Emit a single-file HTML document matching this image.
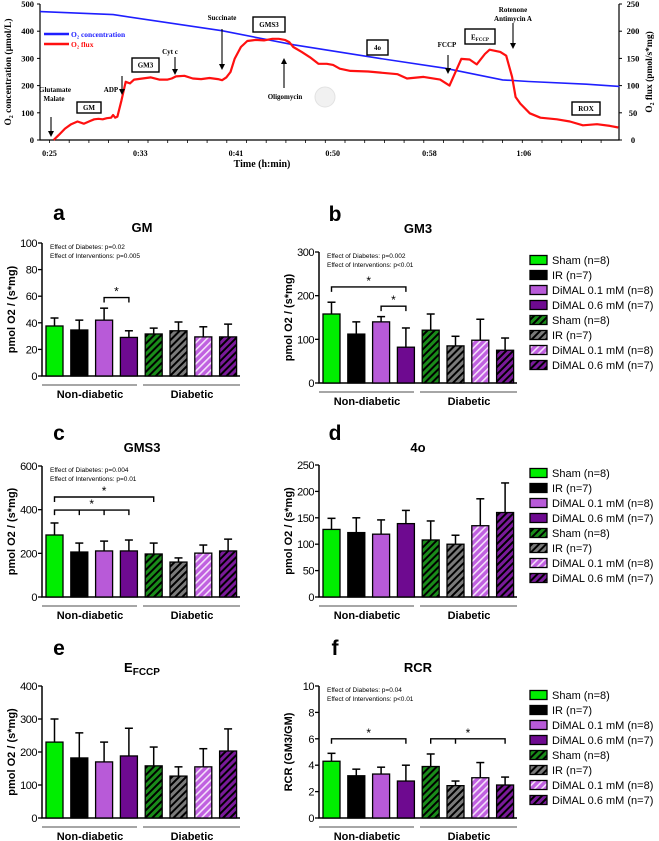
<!DOCTYPE html>
<html><head><meta charset="utf-8"><style>
html,body{margin:0;padding:0;background:#fff;}
svg{display:block;}
.tt{font-family:"Liberation Serif",serif;font-weight:bold;}
.ar{font-family:"Liberation Sans",sans-serif;}
</style></head><body>
<svg id="fig" xmlns="http://www.w3.org/2000/svg" width="659" height="841" viewBox="0 0 659 841">
<defs>
<pattern id="hG" width="5" height="5" patternUnits="userSpaceOnUse" patternTransform="rotate(45)"><rect width="5" height="5" fill="#1a8c1a"/><rect width="2" height="5" fill="#000"/></pattern>
<pattern id="hK" width="5" height="5" patternUnits="userSpaceOnUse" patternTransform="rotate(45)"><rect width="5" height="5" fill="#7a7a7a"/><rect width="2" height="5" fill="#000"/></pattern>
<pattern id="hL" width="5" height="5" patternUnits="userSpaceOnUse" patternTransform="rotate(45)"><rect width="5" height="5" fill="#c060e0"/><rect width="1.6" height="5" fill="#f4e0fa"/></pattern>
<pattern id="hD" width="5" height="5" patternUnits="userSpaceOnUse" patternTransform="rotate(45)"><rect width="5" height="5" fill="#7a1a9a"/><rect width="2" height="5" fill="#000"/></pattern>
</defs>
<g id="topchart"></g>
<g id="bars"></g>
</svg>
<script>
// ---------- Top trace chart data ----------
const fluxTime = [25.35,25.78,26.31,26.84,27.37,27.91,28.44,28.79,29.15,29.51,29.86,30.22,30.39,30.57,30.75,31.10,31.46,31.81,32.17,32.88,33.59,34.30,35.01,35.36,35.72,36.43,37.14,37.85,38.56,39.27,39.63,39.98,40.34,40.69,41.22,41.76,42.47,43.18,43.89,44.42,44.95,45.31,45.66,46.37,47.08,47.79,48.5,49.03,49.6,50.5,52.0,54.5,55.3,56.7,58.1,58.9,59.9,60.6,61.2,61.9,62.3,63.2,63.7,64.2,64.5,64.9,65.7,66.6,68.0,69.1,70.2,71.4,72.5,73.2];
const fluxValue = [0,9,21,29,34,30,35,38,39,38,40,41,46,41,43,73,107,104,111,113,115,111,111,113,117,118,113,112,114,112,110,115,125,149,171,182,184,183,186,186,184,180,171,162,152,140,140,138,131,127,126,121,113,116,111,100,149,148,139,158,166,162,155,116,79,67,49,41,38,34,27,29,26,23];
const o2Time = [24.2,30.4,39.6,45.7,52.8,58.5,63.4,65.6,70.5,73.3];
const o2Value = [472,461,402,350,301,264,221,215,205,197];
const timeTicks = [25,32.7,40.8,49,57.2,65.2];
const timeTickLabels = ["0:25","0:33","0:41","0:50","0:58","1:06"];
const leftTicks = [0,100,200,300,400,500];
const rightTicks = [0,50,100,150,200,250];

// ---------- Bar panel data ----------
const groups = ["Sham (n=8)","IR (n=7)","DiMAL 0.1 mM (n=8)","DiMAL 0.6 mM (n=7)","Sham (n=8)","IR (n=7)","DiMAL 0.1 mM (n=8)","DiMAL 0.6 mM (n=7)"];
const gmMeans = [37.6,34.6,42,29,31.6,34,29.4,29.4];
const gmErrUpper = [43.6,42,51,34,36,40.6,37,39];
const gm3Means = [158,112,140,82,121,85,98,75];
const gm3ErrUpper = [185,140,152,126,158,107,146,103];
const gms3Means = [284,206,211,211,197,160,201,211];
const gms3ErrUpper = [339,247,256,261,247,179,238,265];
const leakMeans = [128,122,119,139,108,100,135,160];
const leakErrUpper = [149,150,146,164,144,117,186,216];
const efccpMeans = [230,182,170,188,158,127,155,203];
const efccpErrUpper = [300,258,230,272,215,155,210,270];
const rcrMeans = [4.3,3.2,3.33,2.8,3.9,2.45,3.05,2.5];
const rcrErrUpper = [4.9,3.7,3.85,4.0,4.85,2.8,4.2,3.1];
const gmTicks = [0,20,40,60,80,100];
const gm3Ticks = [0,100,200,300];
const gms3Ticks = [0,200,400,600];
const leakTicks = [0,50,100,150,200,250];
const efccpTicks = [0,100,200,300,400];
const rcrTicks = [0,2,4,6,8,10];

const NS = "http://www.w3.org/2000/svg";
function mk(parent, tag, attrs, text){
  const el = document.createElementNS(NS, tag);
  for (const k in attrs) el.setAttribute(k, attrs[k]);
  if (text !== undefined) el.textContent = text;
  parent.appendChild(el);
  return el;
}

// ===== Top chart =====
const topG = document.getElementById('topchart');
const PL = 40, PR = 619, PT = 4, PB = 140;
const xT = t => 49.5 + (t - 25) * 11.8;
const yL = v => PB - v * (PB - PT) / 500;
const yR = v => PB - v * (PB - PT) / 250;

let e;
e = mk(topG,'circle',{cx:325,cy:97,r:10,fill:'#f1f1f1',stroke:'#e2e2e2'});



e = mk(topG,'path',{d:`M${PL},${PT} V${PB} H${PR} V${PT}`,fill:'none',stroke:'#000','stroke-width':1.2});


for (let x = 49.5; x <= PR; x += 19.7) {
  mk(topG,'line',{x1:x,y1:PB,x2:x,y2:PB+3,stroke:'#000','stroke-width':0.8});
}
timeTicks.forEach((t,i)=>{
  const tl = mk(topG,'text',{x:xT(t),y:156,'text-anchor':'middle','font-size':8,class:'tt'},timeTickLabels[i]);
  
  
});
leftTicks.forEach(v=>{
  mk(topG,'line',{x1:PL-3,y1:yL(v),x2:PL,y2:yL(v),stroke:'#000'});
  const tl = mk(topG,'text',{x:PL-6,y:yL(v)+3,'text-anchor':'end','font-size':8.5,class:'tt'},String(v));
  
  
});
rightTicks.forEach(v=>{
  mk(topG,'line',{x1:PR,y1:yR(v),x2:PR+3,y2:yR(v),stroke:'#000'});
  const tl = mk(topG,'text',{x:633,y:yR(v)+3,'text-anchor':'middle','font-size':8.5,class:'tt'},String(v));
  
  
});
e = mk(topG,'text',{x:262,y:167,'text-anchor':'middle','font-size':10,class:'tt'},'Time (h:min)');


e = mk(topG,'text',{x:0,y:0,'text-anchor':'middle','font-size':9.5,class:'tt',transform:`translate(11,72) rotate(-90)`},'O₂ concentration (µmol/L)');


e = mk(topG,'text',{x:0,y:0,'text-anchor':'middle','font-size':9.5,class:'tt',transform:`translate(652,72) rotate(-90)`},'O₂ flux (pmol/s*mg)');



e = mk(topG,'path',{d:o2Time.map((t,i)=>(i?'L':'M')+xT(t).toFixed(1)+','+yL(o2Value[i]).toFixed(1)).join(' '),fill:'none',stroke:'#1f1fff','stroke-width':1.6});


e = mk(topG,'path',{d:fluxTime.map((t,i)=>(i?'L':'M')+xT(t).toFixed(1)+','+yR(fluxValue[i]).toFixed(1)).join(' '),fill:'none',stroke:'#ff1010','stroke-width':2.2,'stroke-linejoin':'round'});



mk(topG,'line',{x1:44,y1:34,x2:69,y2:34,stroke:'#1f1fff','stroke-width':2.5});
e = mk(topG,'text',{x:71,y:37,'font-size':7.5,class:'tt',fill:'#1f1fff'},'O₂ concentration');


mk(topG,'line',{x1:44,y1:44,x2:69,y2:44,stroke:'#ff1010','stroke-width':2.5});
e = mk(topG,'text',{x:71,y:47,'font-size':7.5,class:'tt',fill:'#ff1010'},'O₂ flux');



function note(x,y,txt,name){ const t = mk(topG,'text',{x:x,y:y,'text-anchor':'middle','font-size':7,class:'tt'},txt);   return t; }
function arrow(x,y1,y2){
  const dir = y2 > y1 ? 1 : -1;
  mk(topG,'line',{x1:x,y1:y1,x2:x,y2:y2-dir*5,stroke:'#000','stroke-width':1.1});
  const a = mk(topG,'polygon',{points:`${x-3},${y2-dir*6} ${x+3},${y2-dir*6} ${x},${y2}`,fill:'#000'});
  
  
}
function box(x,y,w,h,txt,name){ const r = mk(topG,'rect',{x:x,y:y,width:w,height:h,fill:'#fff',stroke:'#000','stroke-width':1.4});   mk(topG,'text',{x:x+w/2,y:y+h/2+2.5,'text-anchor':'middle','font-size':7,class:'tt'},txt); }
note(55,92,'Glutamate','glutamate-label'); note(54,101,'Malate','malate-label'); arrow(51,117,137);
box(77,102,24,11,'GM','gm-box');
note(111,92,'ADP','adp-label'); arrow(122,76,95);
box(132,58,27,14,'GM3','gm3-box');
note(170,54,'Cyt c','cytc-label'); arrow(175,57,75);
note(222,20,'Succinate','succinate-label'); arrow(222,29,70);
box(253,17,32,15,'GMS3','gms3-box');
note(285,99,'Oligomycin','oligomycin-label'); arrow(284,88,58);
box(367,40,21,15,'4o','leak-box');
note(447,47,'FCCP','fccp-label'); arrow(448,55,74);
box(465,29,30,15,'','efccp-box');
e = mk(topG,'text',{x:480,y:39.5,'text-anchor':'middle','font-size':7,class:'tt'});
e.innerHTML = 'E<tspan font-size="5" dy="1.5">FCCP</tspan>';


note(513,12,'Rotenone','rotenone-label'); note(513,21,'Antimycin A','antimycin-label'); arrow(513,23,49);
box(572,102,28,13,'ROX','rox-box');

// ===== Bar panels =====
const barsG = document.getElementById('bars');
const fills = ['#00ee00','#000000','#b85ad8','#6e0a90','url(#hG)','url(#hK)','url(#hL)','url(#hD)'];
const panels = [
 {name:'gm',letter:'a',title:'GM',ax:42,yt:243,yb:376,max:100,ticks:gmTicks,means:gmMeans,err:gmErrUpper,ytitle:'pmol O2 / (s*mg)',
  eff:['Effect of Diabetes: p=0.02','Effect of Interventions: p=0.005'],br:[{a:2,b:3,mids:[],lv:59}],legend:false,ly:0,ly0:220,ty:232},
 {name:'gm3',letter:'b',title:'GM3',ax:319,yt:252,yb:383,max:300,ticks:gm3Ticks,means:gm3Means,err:gm3ErrUpper,ytitle:'pmol O2 / (s*mg)',
  eff:['Effect of Diabetes: p=0.002','Effect of Interventions: p<0.01'],br:[{a:0,b:3,mids:[],lv:220},{a:2,b:3,mids:[],lv:176}],legend:true,ly:260,ly0:221,ty:233},
 {name:'gms3',letter:'c',title:'GMS3',ax:42,yt:466,yb:597,max:600,ticks:gms3Ticks,means:gms3Means,err:gms3ErrUpper,ytitle:'pmol O2 / (s*mg)',
  eff:['Effect of Diabetes: p=0.004','Effect of Interventions: p=0.01'],br:[{a:0,b:4,mids:[],lv:458},{a:0,b:3,mids:[1,2],lv:398}],legend:false,ly:0,ly0:440,ty:452},
 {name:'leak',letter:'d',title:'4o',ax:319,yt:465,yb:597,max:250,ticks:leakTicks,means:leakMeans,err:leakErrUpper,ytitle:'pmol O2 / (s*mg)',
  eff:[],br:[],legend:true,ly:473,ly0:440,ty:452},
 {name:'efccp',letter:'e',title:'E',ax:42,yt:686,yb:818,max:400,ticks:efccpTicks,means:efccpMeans,err:efccpErrUpper,ytitle:'pmol O2 / (s*mg)',
  eff:[],br:[],legend:false,ly:0,ly0:655,ty:672},
 {name:'rcr',letter:'f',title:'RCR',ax:319,yt:686,yb:818,max:10,ticks:rcrTicks,means:rcrMeans,err:rcrErrUpper,ytitle:'RCR (GM3/GM)',
  eff:['Effect of Diabetes: p=0.04','Effect of Interventions: p<0.01'],br:[{a:0,b:3,mids:[],lv:6.0},{a:4,b:7,mids:[5],lv:6.0}],legend:true,ly:695,ly0:655,ty:672}
];

panels.forEach(p=>{
  const g = mk(barsG,'g',{});
  
  
  const ys = v => p.yb - v*(p.yb-p.yt)/p.max;
  const bx = i => p.ax + 4 + i*24.8;
  const bw = 17;
  const tx = p.ax < 100 ? 142 : 418;
  const lx = p.ax < 100 ? 59 : 335;
  let t = mk(g,'text',{x:lx,y:p.ly0,'text-anchor':'middle','font-size':21,'font-weight':'bold',class:'ar'},p.letter);
  
  
  t = mk(g,'text',{x:tx,y:p.ty,'text-anchor':'middle','font-size':13,'font-weight':'bold',class:'ar'},p.title);
  if (p.name==='efccp') t.innerHTML = 'E<tspan font-size="10" dy="3">FCCP</tspan>';
  
  
  const axis = mk(g,'path',{d:`M${p.ax},${p.yt} V${p.yb} H${p.ax+198}`,fill:'none',stroke:'#000','stroke-width':1.5});
  
  
  p.ticks.forEach(v=>{
    mk(g,'line',{x1:p.ax-4,y1:ys(v),x2:p.ax,y2:ys(v),stroke:'#000','stroke-width':1.3});
    const tl = mk(g,'text',{x:p.ax-5,y:ys(v)+4,'text-anchor':'end','font-size':11,class:'ar','letter-spacing':'-0.5'},String(v));
    
    
  });
  const yt = mk(g,'text',{x:0,y:0,'text-anchor':'middle','font-size':11,'font-weight':'bold',class:'ar',transform:`translate(${p.ax-27},${(p.yt+p.yb)/2}) rotate(-90)`},p.ytitle);
  
  
  p.eff.forEach((s,i)=>{
    const et = mk(g,'text',{x:p.ax+8,y:p.yt+6+i*9,'font-size':6.5,class:'ar'},s);
    
    
  });
  p.means.forEach((m,i)=>{
    const x = bx(i);
    const cx = x + bw/2;
    mk(g,'line',{x1:cx,y1:ys(m),x2:cx,y2:ys(p.err[i]),stroke:'#000','stroke-width':1.5});
    mk(g,'line',{x1:cx-4,y1:ys(p.err[i]),x2:cx+4,y2:ys(p.err[i]),stroke:'#000','stroke-width':1.5});
    const r = mk(g,'rect',{x:x,y:ys(m),width:bw,height:p.yb-ys(m),fill:fills[i],stroke:'#000','stroke-width':1.3});
    
    
  });
  p.br.forEach(b=>{
    const y = ys(b.lv);
    const x1 = bx(b.a)+bw/2, x2 = bx(b.b)+bw/2;
    let d = `M${x1},${y+5} V${y} H${x2} V${y+5}`;
    b.mids.forEach(mi=>{ const mx = bx(mi)+bw/2; d += ` M${mx},${y} V${y+5}`; });
    const bp = mk(g,'path',{d:d,fill:'none',stroke:'#000','stroke-width':1.4});
    
    
    const st = mk(g,'text',{x:(x1+x2)/2,y:y-2,'text-anchor':'middle','font-size':12,class:'ar'},'*');
    
    
  });
  mk(g,'line',{x1:p.ax,y1:p.yb+9,x2:p.ax+95,y2:p.yb+9,stroke:'#888','stroke-width':1.5});
  mk(g,'line',{x1:p.ax+101,y1:p.yb+9,x2:p.ax+198,y2:p.yb+9,stroke:'#888','stroke-width':1.5});
  let gl = mk(g,'text',{x:p.ax+48,y:p.yb+22,'text-anchor':'middle','font-size':11,'font-weight':'bold',class:'ar'},'Non-diabetic');
  
  
  gl = mk(g,'text',{x:p.ax+150,y:p.yb+22,'text-anchor':'middle','font-size':11,'font-weight':'bold',class:'ar'},'Diabetic');
  
  
  if (p.legend){
    groups.forEach((lbl,i)=>{
      const y = p.ly + i*15;
      const lr = mk(g,'rect',{x:530,y:y-4.5,width:17,height:9,fill:fills[i],stroke:'#000','stroke-width':1.3});
      
      
      const lt = mk(g,'text',{x:552,y:y+4,'font-size':11,class:'ar'},lbl);
      
      
    });
  }
});
</script>
</body></html>
